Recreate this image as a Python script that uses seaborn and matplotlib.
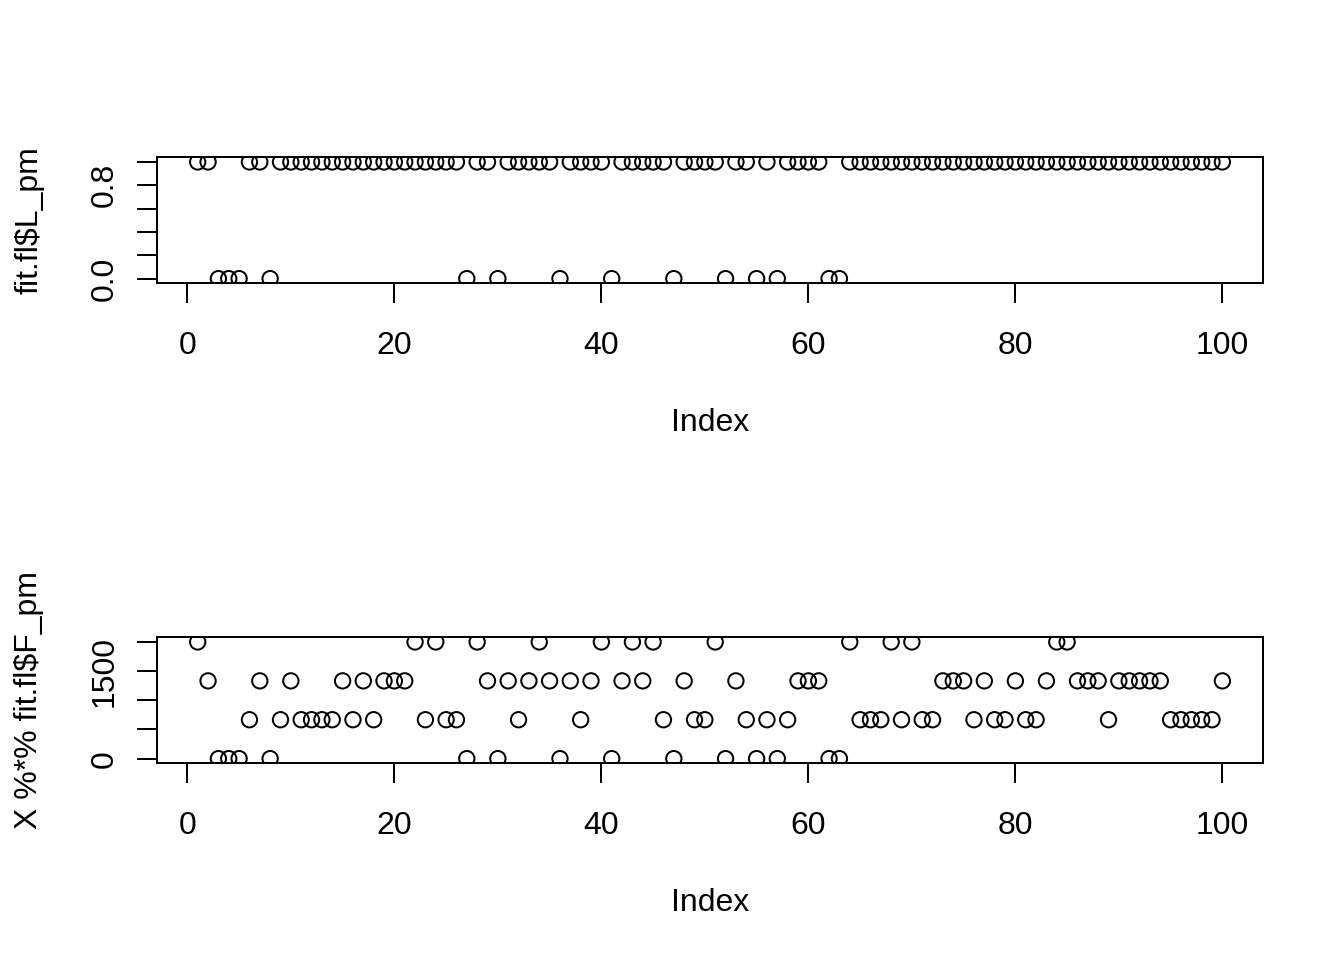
import numpy as np
import matplotlib
matplotlib.use("Agg")
import matplotlib.pyplot as plt
import seaborn as sns

# Values (index 1..100)
index = list(range(1, 101))

L_pm = [1, 1, 0, 0, 0, 1, 1, 0, 1, 1,
        1, 1, 1, 1, 1, 1, 1, 1, 1, 1,
        1, 1, 1, 1, 1, 1, 0, 1, 1, 0,
        1, 1, 1, 1, 1, 0, 1, 1, 1, 1,
        0, 1, 1, 1, 1, 1, 0, 1, 1, 1,
        1, 0, 1, 1, 0, 1, 0, 1, 1, 1,
        1, 0, 0, 1, 1, 1, 1, 1, 1, 1,
        1, 1, 1, 1, 1, 1, 1, 1, 1, 1,
        1, 1, 1, 1, 1, 1, 1, 1, 1, 1,
        1, 1, 1, 1, 1, 1, 1, 1, 1, 1]

XF_pm = [2000, 1333, 0, 0, 0, 667, 1333, 0, 667, 1333,
         667, 667, 667, 667, 1333, 667, 1333, 667, 1333, 1333,
         1333, 2000, 667, 2000, 667, 667, 0, 2000, 1333, 0,
         1333, 667, 1333, 2000, 1333, 0, 1333, 667, 1333, 2000,
         0, 1333, 2000, 1333, 2000, 667, 0, 1333, 667, 667,
         2000, 0, 1333, 667, 0, 667, 0, 667, 1333, 1333,
         1333, 0, 0, 2000, 667, 667, 667, 2000, 667, 2000,
         667, 667, 1333, 1333, 1333, 667, 1333, 667, 667, 1333,
         667, 667, 1333, 2000, 2000, 1333, 1333, 1333, 667, 1333,
         1333, 1333, 1333, 1333, 667, 667, 667, 667, 667, 1333]

x_ticks = [0, 20, 40, 60, 80, 100]
top_yticks = [0.0, 0.2, 0.4, 0.6, 0.8, 1.0]
top_ylabels = ["0.0", "", "", "", "0.8", ""]
bot_yticks = [0, 500, 1000, 1500, 2000]
bot_ylabels = ["0", "", "", "1500", ""]

sns.set_style("white")
plt.rcParams['font.family'] = ['Liberation Sans', 'DejaVu Sans']
plt.rcParams['font.size'] = 12
plt.rcParams['text.color'] = 'black'
plt.rcParams['axes.labelcolor'] = 'black'

fig = plt.figure(figsize=(7, 5), dpi=192)

panels = [
    (0.7049, L_pm, (-0.04, 1.04), top_yticks, top_ylabels, "fit.fl$L_pm"),
    (0.2049, XF_pm, (-80, 2080), bot_yticks, bot_ylabels, "X %*% fit.fl$F_pm"),
]

for bottom, yvals, ylim, yticks, ylabels, ylab in panels:
    ax = fig.add_axes([0.1166, bottom, 0.8234, 0.13125])
    sns.scatterplot(x=index, y=yvals, ax=ax, marker="o", s=33,
                    facecolor="none", edgecolor="black", linewidth=0.75)
    ax.set_xlim(1 - 3.96, 100 + 3.96)
    ax.set_ylim(*ylim)
    ax.set_xticks(x_ticks)
    ax.set_xticklabels([str(t) for t in x_ticks])
    ax.set_yticks(yticks)
    ax.set_yticklabels(ylabels, rotation=90, va="center")
    ax.tick_params(axis="both", direction="out", length=7.5, width=0.75,
                   color="black", labelsize=12, labelcolor="black",
                   left=True, bottom=True)
    ax.tick_params(axis="x", pad=10.3)
    ax.tick_params(axis="y", pad=6.5)
    for sp in ax.spines.values():
        sp.set_visible(True)
        sp.set_color("black")
        sp.set_linewidth(0.75)
    ax.set_xlabel("Index", fontsize=12, color="black")
    ax.xaxis.set_label_coords(0.5, -0.99)
    ax.set_ylabel(ylab, fontsize=12, color="black", parse_math=False)
    ax.yaxis.set_label_coords(-0.1018, 0.5)
    ax.grid(False)

fig.savefig("out.png", dpi=192, facecolor="white")
